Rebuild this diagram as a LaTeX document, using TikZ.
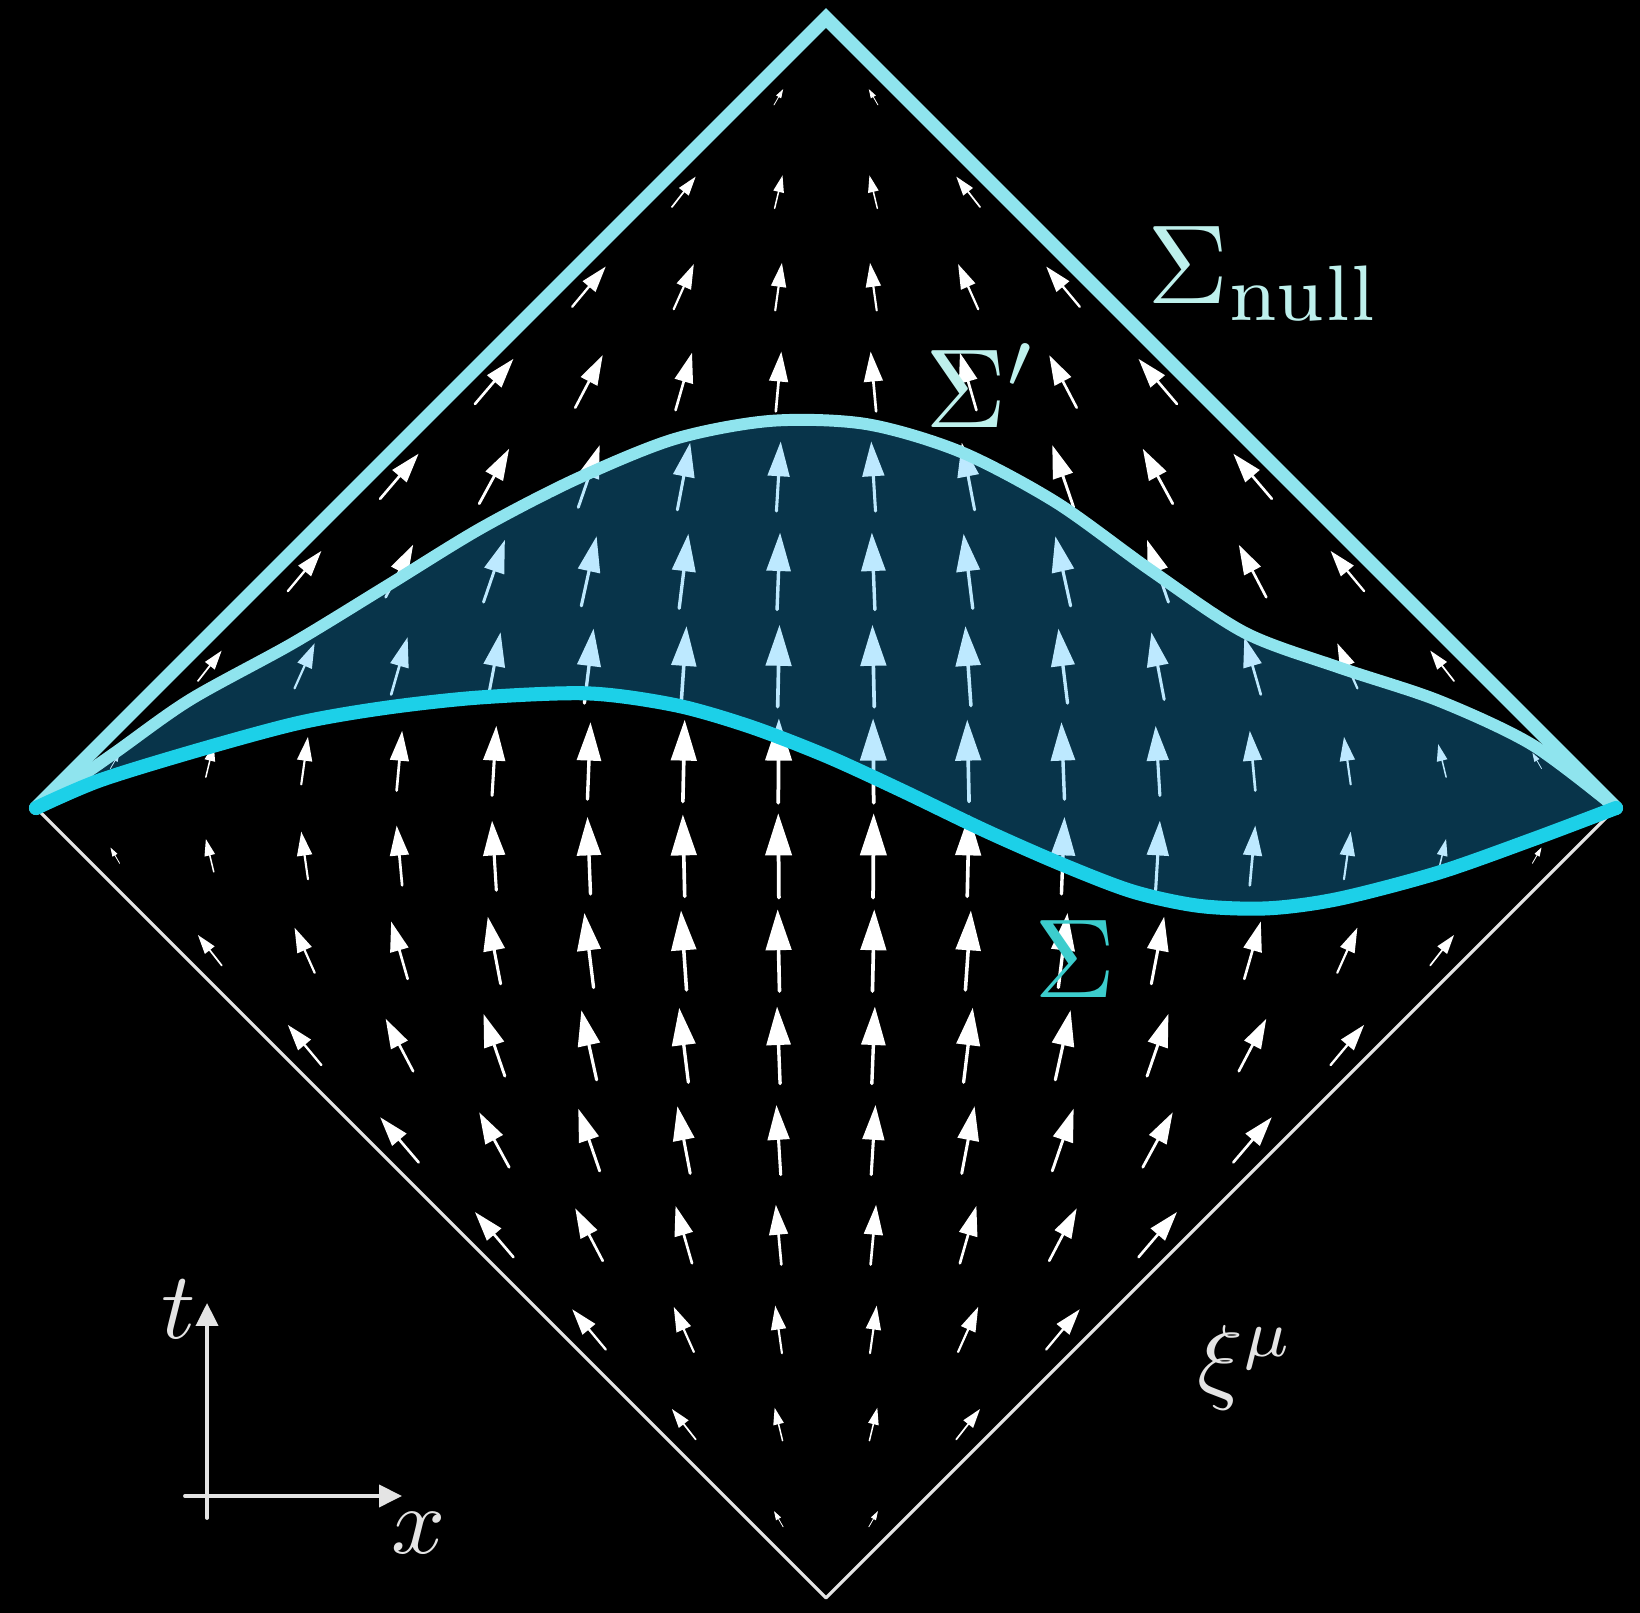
\documentclass[tikz,border=0pt]{standalone}
\usetikzlibrary{arrows.meta}

\definecolor{nullcyan}{RGB}{143,228,238}
\definecolor{sigcyan}{RGB}{28,208,232}
\definecolor{regionblue}{RGB}{30,180,255}
\definecolor{labelpale}{RGB}{190,240,236}
\definecolor{labelteal}{RGB}{60,205,205}
\definecolor{axisgray}{RGB}{228,228,228}

\begin{document}
\begin{tikzpicture}[
        x={(7.9cm,0cm)},
        y={(0cm,7.9cm)},
        line join=round,
        line cap=round,
        nullline/.style={nullcyan, line width=4pt, line join=miter},
        sigmaline/.style={sigcyan, line width=4pt},
        sigmaprime/.style={nullcyan, line width=3.4pt},
        region/.style={fill=regionblue, fill opacity=0.29},
        bigsigma/.style={scale=3.2, inner sep=0pt, anchor=base west},
        smalllabel/.style={scale=2.7, inner sep=0pt, anchor=base west, text=axisgray},
        axisarrow/.style={axisgray, line width=1.1pt, -{Triangle[length=0.23cm, width=0.22cm]}}
    ]
        % 场的参数
        \def\ksc{0.215}  % 箭头长度比例
        \def\gap{0.12}   % 网格间距

        % 背景
        \fill[black] (-1.0456,-1.019) rectangle (1.0304,1.0228);
        \useasboundingbox (-1.0456,-1.019) rectangle (1.0304,1.0228);

        % 菱形的顶点
        \coordinate (L) at (-1,0);
        \coordinate (T) at (0,1);
        \coordinate (R) at (1,0);
        \coordinate (B) at (0,-1);

        % 向量场 xi = (1-t^2-x^2)/2 d_t - x t d_x
        \foreach \i in {0,...,15} {
            \foreach \j in {0,...,15} {
                \pgfmathsetmacro\xp{-0.9 + \gap*\i}
                \pgfmathsetmacro\tp{-0.9 + \gap*\j}
                \pgfmathtruncatemacro\inside{abs(\xp)+abs(\tp) < 0.99}
                \ifnum\inside=1
                    \pgfmathsetmacro\vx{-\ksc*(\xp)*(\tp)}
                    \pgfmathsetmacro\vt{\ksc*(1-(\xp)*(\xp)-(\tp)*(\tp))/2}
                    \pgfmathsetmacro\len{sqrt((\vx)*(\vx)+(\vt)*(\vt))}
                    \pgfmathsetmacro\hl{0.5*\len*7.9}
                    \pgfmathsetmacro\hw{0.31*\len*7.9}
                    \pgfmathsetmacro\lw{max(0.2,10*\len)}
                    \draw[white, line width=\lw pt, -{Triangle[length=\hl cm, width=\hw cm]}]
                        ({\xp-\vx/2},{\tp-\vt/2}) -- ({\xp+\vx/2},{\tp+\vt/2});
                \fi
            }
        }

        % 两个曲面之间的区域
        \fill[region]
            plot[smooth] coordinates {(-1,0) (-0.9,0.07) (-0.805,0.137) (-0.675,0.2085)
                (-0.556,0.281) (-0.437,0.354) (-0.317,0.416) (-0.192,0.467) (-0.07,0.49)
                (0.051,0.486) (0.17,0.451) (0.291,0.387) (0.411,0.301) (0.53,0.222)
                (0.649,0.178) (0.775,0.136) (0.894,0.08) (1,0)}
            -- plot[smooth] coordinates {(1,0) (0.894,-0.04) (0.775,-0.082) (0.649,-0.115)
                (0.56,-0.127) (0.473,-0.124) (0.389,-0.106) (0.3,-0.072) (0.2,-0.028)
                (0.094,0.023) (0,0.066) (-0.096,0.103) (-0.19,0.13) (-0.3,0.145)
                (-0.437,0.14) (-0.556,0.127) (-0.666,0.108) (-0.792,0.074) (-0.919,0.035) (-1,0)}
            -- cycle;

        % 菱形的下边
        \draw[axisgray, line width=0.9pt] (L) -- (B) -- (R);

        % 零类曲面
        \draw[nullline] (L) -- (T) -- (R);

        % 曲面 Sigma'
        \draw[sigmaprime]
            plot[smooth] coordinates {(-1,0) (-0.9,0.07) (-0.805,0.137) (-0.675,0.2085)
                (-0.556,0.281) (-0.437,0.354) (-0.317,0.416) (-0.192,0.467) (-0.07,0.49)
                (0.051,0.486) (0.17,0.451) (0.291,0.387) (0.411,0.301) (0.53,0.222)
                (0.649,0.178) (0.775,0.136) (0.894,0.08) (1,0)};

        % 曲面 Sigma
        \draw[sigmaline]
            plot[smooth] coordinates {(1,0) (0.894,-0.04) (0.775,-0.082) (0.649,-0.115)
                (0.56,-0.127) (0.473,-0.124) (0.389,-0.106) (0.3,-0.072) (0.2,-0.028)
                (0.094,0.023) (0,0.066) (-0.096,0.103) (-0.19,0.13) (-0.3,0.145)
                (-0.437,0.14) (-0.556,0.127) (-0.666,0.108) (-0.792,0.074) (-0.919,0.035) (-1,0)};

        % 标签
        \node[bigsigma, text=labelpale] (signull) at (0.4038,0.639) {$\Sigma_{\mathrm{null}}$};
        \node[bigsigma, text=labelpale] (sigprime) at (0.1228,0.481) {$\Sigma'$};
        \node[bigsigma, text=labelteal] (sig) at (0.261,-0.2405) {$\Sigma$};
        \node[smalllabel] (xi) at (0.468,-0.738) {$\xi^\mu$};

        % 坐标轴 t, x
        \coordinate (tfoot) at (-0.7835,-0.8987);
        \coordinate (ttip) at (-0.7835,-0.6266);
        \coordinate (xfoot) at (-0.8114,-0.8709);
        \coordinate (xtip) at (-0.5367,-0.8709);
        \draw[axisarrow] (tfoot) -- (ttip);
        \draw[axisarrow] (xfoot) -- (xtip);
        \node[smalllabel] (tlab) at (-0.843,-0.671) {$t$};
        \node[smalllabel] (xlab) at (-0.552,-0.944) {$x$};
    \end{tikzpicture}
\end{document}
